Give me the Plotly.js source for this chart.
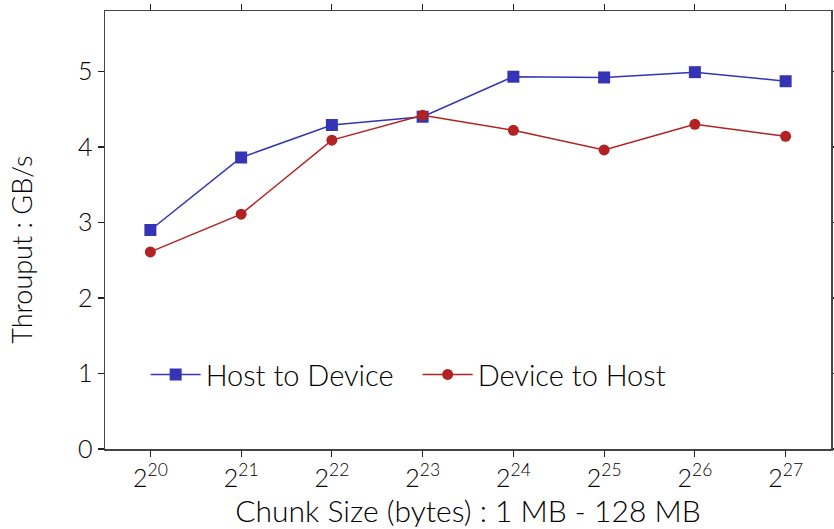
<!DOCTYPE html>
<html><head><meta charset="utf-8">
<script src="https://cdn.plot.ly/plotly-3.0.1.min.js"></script>
<style>body{margin:0;background:#fff}#c{width:834px;height:529px}</style>
</head><body><div id="c"></div>
<script>
const exponents = [20, 21, 22, 23, 24, 25, 26, 27];
const hostToDevice = [2.90, 3.86, 4.29, 4.40, 4.93, 4.92, 4.99, 4.87];
const deviceToHost = [2.61, 3.11, 4.09, 4.42, 4.22, 3.96, 4.30, 4.14];
const yTicks = [0, 1, 2, 3, 4, 5];

const xIdx = exponents.map((e, i) => i);
const xLabels = exponents.map(e => '2<sup>' + e + '</sup>');
const FONT = 'Lato, Liberation Sans, sans-serif';

const traces = [
  {x: xIdx, y: hostToDevice, name: 'Host to Device', mode: 'lines+markers',
   line: {color: '#3434b4', width: 1.5}, marker: {symbol: 'square', size: 12, color: '#3434b4'}},
  {x: xIdx, y: deviceToHost, name: 'Device to Host', mode: 'lines+markers',
   line: {color: '#b22222', width: 1.5}, marker: {symbol: 'circle', size: 11, color: '#b22222'}}
];

const axCommon = {showgrid: false, zeroline: false, showline: true, linecolor: '#444', linewidth: 1.5,
  tickcolor: '#222', tickwidth: 1.2, ticklen: 6, mirror: 'ticks'};

const layout = {
  width: 834, height: 529,
  margin: {l: 105, r: 3, t: 11, b: 80},
  paper_bgcolor: '#fff', plot_bgcolor: '#fff',
  font: {family: FONT, color: '#000', size: 24, weight: 300},
  showlegend: true,
  legend: {orientation: 'h', x: 0.056, y: 0.17, xanchor: 'left', yanchor: 'middle',
    font: {size: 29, family: FONT, color: '#000', weight: 300}, bgcolor: 'rgba(0,0,0,0)', entrywidth: 207, itemwidth: 50},
  xaxis: Object.assign({}, axCommon, {range: [-0.5, 7.5], tickvals: xIdx, ticktext: xLabels, ticks: 'outside',
    tickfont: {size: 25, weight: 300, color: '#000'}, title: {text: 'Chunk Size (bytes) : 1 MB - 128 MB', font: {size: 30, weight: 300, color: '#000'}, standoff: 9}}),
  yaxis: Object.assign({}, axCommon, {range: [0, 5.8], tickvals: yTicks, ticks: 'outside',
    tickfont: {size: 25, weight: 300, color: '#000'}}),
  xaxis2: Object.assign({}, axCommon, {overlaying: 'x', range: [-0.5, 7.5], tickvals: xIdx, ticks: 'inside',
    showticklabels: false, side: 'bottom'}),
  yaxis2: Object.assign({}, axCommon, {overlaying: 'y', range: [0, 5.8], tickvals: yTicks, ticks: 'inside',
    showticklabels: false, side: 'left'}),
  annotations: [{text: 'Throuput : GB/s', xref: 'paper', yref: 'paper', x: -0.1143, y: 0.455,
    xanchor: 'center', yanchor: 'middle', textangle: -90, showarrow: false,
    font: {size: 27, family: FONT, color: '#000', weight: 300}}]
};
Plotly.newPlot('c', traces, layout, {displayModeBar: false, staticPlot: true});
</script></body></html>
